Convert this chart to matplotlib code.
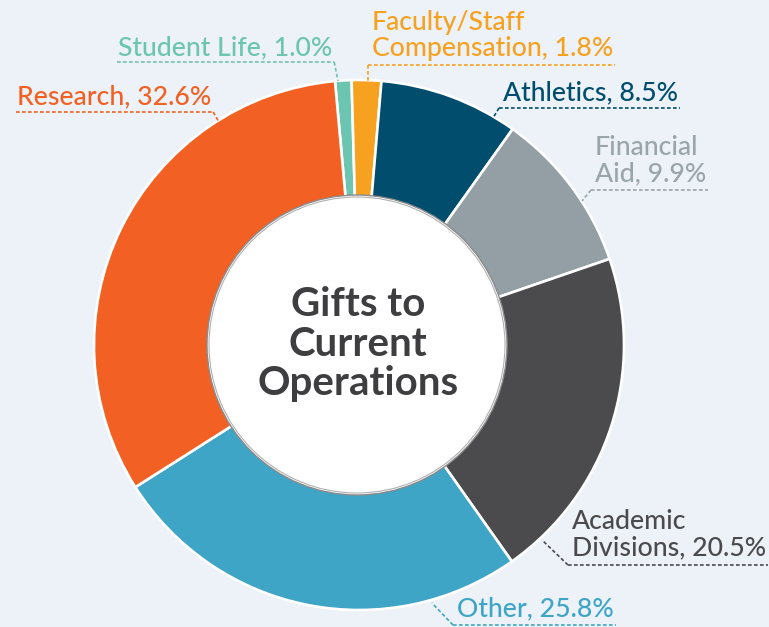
import matplotlib.pyplot as plt
from matplotlib.patches import Circle

categories = ['Student Life', 'Faculty/Staff Compensation', 'Athletics', 'Financial Aid',
              'Academic Divisions', 'Other', 'Research']
shares = [1.0, 1.8, 8.5, 9.9, 20.5, 25.8, 32.6]
colors = ['#6cc5b0', '#f6a11f', '#004d6e', '#939fa5', '#4b4b4d', '#3ea5c6', '#f26123']
text_colors = ['#6cc5b0', '#f6a11f', '#004d6e', '#9aa5ab', '#4b4b4d', '#3ea5c6', '#f26123']
# label lines as printed
label_lines = [
    ['Student Life, 1.0%'],
    ['Faculty/Staff', 'Compensation, 1.8%'],
    ['Athletics, 8.5%'],
    ['Financial', 'Aid, 9.9%'],
    ['Academic', 'Divisions, 20.5%'],
    ['Other, 25.8%'],
    ['Research, 32.6%'],
]

# layout (pixels, y down): text left, first baseline, underline y, connector end
label_pos = [
    (118, 55, 62, (338, 81)),
    (372, 30, 65, (368, 81)),
    (503, 100, 108, (493, 118)),
    (595, 155, 190, (582, 201)),
    (572, 529, 565, (542, 540)),
    (457, 616, 625, (432, 603)),
    (17, 104, 112, (220, 124)),
]

W, H = 769, 627
bg = '#edf2f8'
plt.rcParams['font.family'] = ['Lato', 'DejaVu Sans']

fig = plt.figure(figsize=(W / 100, H / 100), dpi=100, facecolor=bg)
ax = fig.add_axes([0, 0, 1, 1])
ax.set_facecolor(bg)
ax.set_xlim(0, W)
ax.set_ylim(H, 0)
ax.set_aspect('equal')
ax.axis('off')

cx, cy, R = 359, 345, 265
ax.pie(shares, colors=colors, center=(cx, cy), radius=R, startangle=-95.2,
       counterclock=True, wedgeprops=dict(edgecolor='white', linewidth=1.9))
ax.set_xlim(0, W)
ax.set_ylim(H, 0)

ax.add_patch(Circle((357, cy), 150, facecolor='white', edgecolor='#8a8a8a', lw=1.0, zorder=5))
ax.add_patch(Circle((357, cy), 148, facecolor='white', edgecolor='#b0b0b0', lw=0.8, zorder=6))
ax.text(358, 344, 'Gifts to\nCurrent\nOperations', ha='center', va='center',
        fontsize=29, fontweight='bold', color='#3e3e40', linespacing=1.1, zorder=7)

fig.canvas.draw()
renderer = fig.canvas.get_renderer()
for lines, (x0, y0, yu, end), col in zip(label_lines, label_pos, text_colors):
    right = x0
    for i, line in enumerate(lines):
        t = ax.text(x0, y0 + i * 26, line, ha='left', va='baseline', fontsize=19.2,
                    fontweight='medium', color=col)
        bb = t.get_window_extent(renderer)
        right = max(right, bb.x1)
    ls = (0, (2.2, 1.4))
    if end[0] > x0:
        # connector leaves from the right end of the underline
        ax.plot([x0 - 1, right + 2], [yu, yu], color=col, lw=1.2, ls=ls)
        ax.plot([right + 2, end[0]], [yu, end[1]], color=col, lw=1.2, ls=ls)
    else:
        ax.plot([x0 - 4, right + 2], [yu, yu], color=col, lw=1.2, ls=ls)
        ax.plot([x0 - 4, end[0]], [yu, end[1]], color=col, lw=1.2, ls=ls)

fig.savefig('out.png', dpi=100, facecolor=bg)
